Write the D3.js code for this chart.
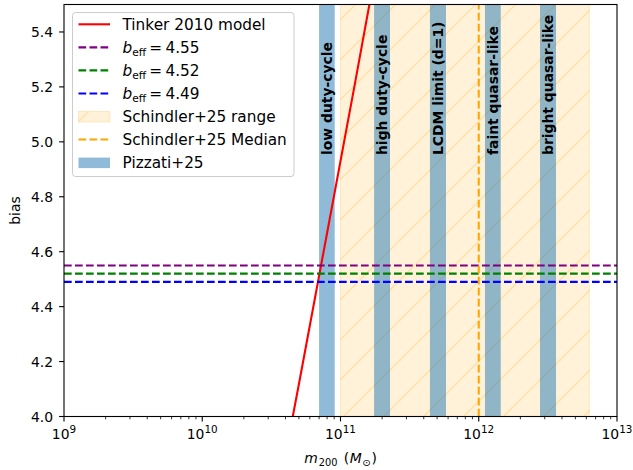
<!DOCTYPE html>
<html>
<head>
<meta charset="utf-8">
<script src="https://cdn.jsdelivr.net/npm/d3@7"></script>
<style>
  html, body { margin: 0; padding: 0; background: #fff; }
  svg { display: block; font-family: "DejaVu Sans", sans-serif; }
</style>
</head>
<body>
<svg id="chart" width="633" height="470"></svg>
<script>
// ---------------- data ----------------
const xTicks = [1e9, 1e10, 1e11, 1e12, 1e13];
const xTickExponents = ["9", "10", "11", "12", "13"];
const yTicks = [4.0, 4.2, 4.4, 4.6, 4.8, 5.0, 5.2, 5.4];
const yTickLabels = ["4.0", "4.2", "4.4", "4.6", "4.8", "5.0", "5.2", "5.4"];

// Tinker 2010 model (log10 mass, bias)
const tinkerLogMass = [10.5, 10.7, 10.9, 11.1, 11.3, 11.4];
const tinkerBias    = [3.59, 4.12, 4.66, 5.20, 5.75, 6.03];

// effective bias lines
const beffValues = [4.55, 4.52, 4.49];
const beffLabels = ["4.55", "4.52", "4.49"];
const beffColors = ["purple", "green", "blue"];

// Schindler+25 range and median (log10 mass)
const schindlerRange = [11.0, 12.80];
const schindlerMedian = 12.0;

// Pizzati+25 bands (log10 mass)
const pizzatiLabels = ["low duty-cycle", "high duty-cycle", "LCDM limit (d=1)", "faint quasar-like", "bright quasar-like"];
const pizzatiLo = [10.845, 11.243, 11.647, 12.045, 12.443];
const pizzatiHi = [10.958, 11.358, 11.763, 12.159, 12.559];
const bandLabelY = 4.952;

// ---------------- layout ----------------
const W = 633, H = 470;
const M = { left: 64, right: 617, top: 4.5, bottom: 416.5 };
const FS = 13.9;
const LFS = 15.3;

const svg = d3.select("#chart");
const x = d3.scaleLog().domain([1e9, 1e13]).range([M.left, M.right]);
const y = d3.scaleLinear().domain([4.0, 5.5]).range([M.bottom, M.top]);

const defs = svg.append("defs");
defs.append("clipPath").attr("id", "clip")
  .append("rect").attr("x", M.left).attr("y", M.top)
  .attr("width", M.right - M.left).attr("height", M.bottom - M.top);

const hatch = defs.append("pattern").attr("id", "hatch")
  .attr("patternUnits", "userSpaceOnUse")
  .attr("width", 40).attr("height", 40);
hatch.append("rect").attr("width", 40).attr("height", 40).attr("fill", "orange").attr("fill-opacity", 0.15);
hatch.append("path").attr("d", "M-10,50 L50,-10 M-10,10 L10,-10 M30,50 L50,30")
  .attr("stroke", "orange").attr("stroke-opacity", 0.25).attr("stroke-width", 1.3);

const plot = svg.append("g").attr("clip-path", "url(#clip)");

// Schindler range
plot.append("rect")
  .attr("x", x(Math.pow(10, schindlerRange[0])))
  .attr("width", x(Math.pow(10, schindlerRange[1])) - x(Math.pow(10, schindlerRange[0])))
  .attr("y", M.top).attr("height", M.bottom - M.top)
  .attr("fill", "url(#hatch)")
  .attr("stroke", "orange").attr("stroke-opacity", 0.2).attr("stroke-width", 1);

// Pizzati bands
plot.selectAll("rect.band").data(pizzatiLo).enter().append("rect")
  .attr("class", "band")
  .attr("x", (d) => x(Math.pow(10, d)))
  .attr("width", (d, i) => x(Math.pow(10, pizzatiHi[i])) - x(Math.pow(10, d)))
  .attr("y", M.top).attr("height", M.bottom - M.top)
  .attr("fill", "#1f77b4").attr("fill-opacity", 0.5);

// Tinker model line
const line = d3.line().x((d) => x(Math.pow(10, d[0]))).y((d) => y(d[1]));
plot.append("path")
  .datum(tinkerLogMass.map((m, i) => [m, tinkerBias[i]]))
  .attr("d", line).attr("fill", "none").attr("stroke", "red").attr("stroke-width", 2.1);

// b_eff lines
beffValues.forEach((b, i) => {
  plot.append("line")
    .attr("x1", M.left).attr("x2", M.right)
    .attr("y1", y(b)).attr("y2", y(b))
    .attr("stroke", beffColors[i]).attr("stroke-width", 2.1)
    .attr("stroke-dasharray", "7.7,3.3");
});

// Schindler median
plot.append("line")
  .attr("x1", x(Math.pow(10, schindlerMedian))).attr("x2", x(Math.pow(10, schindlerMedian)))
  .attr("y1", M.bottom).attr("y2", M.top)
  .attr("stroke", "orange").attr("stroke-width", 2.1)
  .attr("stroke-dasharray", "7.7,3.3");

// Band labels
pizzatiLabels.forEach((lab, i) => {
  const cx = (x(Math.pow(10, pizzatiLo[i])) + x(Math.pow(10, pizzatiHi[i]))) / 2;
  const cy = y(bandLabelY);
  svg.append("text")
    .attr("transform", `translate(${cx},${cy}) rotate(-90)`)
    .attr("dy", "0.36em")
    .attr("font-size", FS).attr("font-weight", "bold")
    .attr("fill", "black")
    .text(lab);
});

// ---------------- axes ----------------
const axes = svg.append("g");
const minor = [];
for (let e = 9; e < 13; e++) for (let k = 2; k <= 9; k++) minor.push(k * Math.pow(10, e));
axes.selectAll("line.minor").data(minor).enter().append("line")
  .attr("x1", (d) => x(d)).attr("x2", (d) => x(d))
  .attr("y1", M.bottom).attr("y2", M.bottom + 2.8)
  .attr("stroke", "black").attr("stroke-width", 0.8);
axes.selectAll("line.xmajor").data(xTicks).enter().append("line")
  .attr("x1", (d) => x(d)).attr("x2", (d) => x(d))
  .attr("y1", M.bottom).attr("y2", M.bottom + 4.9)
  .attr("stroke", "black").attr("stroke-width", 1.1);
xTicks.forEach((t, i) => {
  const tx = axes.append("text")
    .attr("x", x(t)).attr("y", 439)
    .attr("text-anchor", "middle").attr("font-size", FS);
  tx.append("tspan").text("10");
  tx.append("tspan").attr("dy", -6.5).attr("font-size", 10.4).text(xTickExponents[i]);
});
axes.selectAll("line.ymajor").data(yTicks).enter().append("line")
  .attr("x1", M.left - 4.9).attr("x2", M.left)
  .attr("y1", (d) => y(d)).attr("y2", (d) => y(d))
  .attr("stroke", "black").attr("stroke-width", 1.1);
yTicks.forEach((t, i) => {
  axes.append("text")
    .attr("x", M.left - 11).attr("y", y(t)).attr("dy", "0.36em")
    .attr("text-anchor", "end").attr("font-size", FS).text(yTickLabels[i]);
});
axes.append("rect")
  .attr("x", M.left).attr("y", M.top)
  .attr("width", M.right - M.left).attr("height", M.bottom - M.top)
  .attr("fill", "none").attr("stroke", "black").attr("stroke-width", 1.1);

// axis labels
const xl = svg.append("text").attr("x", (M.left + M.right) / 2).attr("y", 463)
  .attr("text-anchor", "middle").attr("font-size", FS);
xl.append("tspan").attr("font-style", "italic").text("m");
xl.append("tspan").attr("dx", 1).attr("dy", 3).attr("font-size", 9.8).text("200");
xl.append("tspan").attr("dx", 2).attr("dy", -3).text(" (");
xl.append("tspan").attr("dx", 0.5).attr("font-style", "italic").text("M");
xl.append("tspan").attr("dx", 0.5).attr("dy", 3).attr("font-size", 9.8).text("⊙");
xl.append("tspan").attr("dx", 1).attr("dy", -3).text(")");

svg.append("text")
  .attr("transform", `translate(15,${(M.top + M.bottom) / 2}) rotate(-90)`)
  .attr("dy", "0.36em")
  .attr("text-anchor", "middle").attr("font-size", FS).text("bias");

// ---------------- legend ----------------
const lg = svg.append("g");
lg.append("rect").attr("x", 72.5).attr("y", 12.5).attr("width", 221.5).attr("height", 164)
  .attr("rx", 3).attr("fill", "white").attr("fill-opacity", 0.8)
  .attr("stroke", "#cccccc").attr("stroke-width", 1);
const rowY = (i) => 24.3 + i * 23.05;
const hx0 = 78.5, hx1 = 110, tx0 = 122.5;
const base = 5.6;

lg.append("line").attr("x1", hx0).attr("x2", hx1).attr("y1", rowY(0)).attr("y2", rowY(0))
  .attr("stroke", "red").attr("stroke-width", 2.1);
lg.append("text").attr("x", tx0).attr("y", rowY(0) + base).attr("font-size", LFS).text("Tinker 2010 model");

beffValues.forEach((b, i) => {
  const yy = rowY(i + 1);
  lg.append("line").attr("x1", hx0).attr("x2", hx1).attr("y1", yy).attr("y2", yy)
    .attr("stroke", beffColors[i]).attr("stroke-width", 2.1).attr("stroke-dasharray", "7.7,3.3");
  const t = lg.append("text").attr("x", tx0).attr("y", yy + base).attr("font-size", LFS);
  t.append("tspan").attr("font-style", "italic").text("b");
  t.append("tspan").attr("dy", 3.3).attr("font-size", 10.7).text("eff");
  t.append("tspan").attr("dx", 3).attr("dy", -3.3).text("=");
  t.append("tspan").attr("dx", 3.5).text(beffLabels[i]);
});
{
  const yy = rowY(4);
  lg.append("rect").attr("x", hx0).attr("y", yy - 5).attr("width", hx1 - hx0).attr("height", 10.5)
    .attr("fill", "url(#hatch)").attr("stroke", "orange").attr("stroke-opacity", 0.2);
  lg.append("text").attr("x", tx0).attr("y", yy + base).attr("font-size", LFS).text("Schindler+25 range");
}
{
  const yy = rowY(5);
  lg.append("line").attr("x1", hx0).attr("x2", hx1).attr("y1", yy).attr("y2", yy)
    .attr("stroke", "orange").attr("stroke-width", 2.1).attr("stroke-dasharray", "7.7,3.3");
  lg.append("text").attr("x", tx0).attr("y", yy + base).attr("font-size", LFS).text("Schindler+25 Median");
}
{
  const yy = rowY(6);
  lg.append("rect").attr("x", hx0).attr("y", yy - 5).attr("width", hx1 - hx0).attr("height", 10.5)
    .attr("fill", "#1f77b4").attr("fill-opacity", 0.5);
  lg.append("text").attr("x", tx0).attr("y", yy + base).attr("font-size", LFS).text("Pizzati+25");
}
</script>
</body>
</html>
